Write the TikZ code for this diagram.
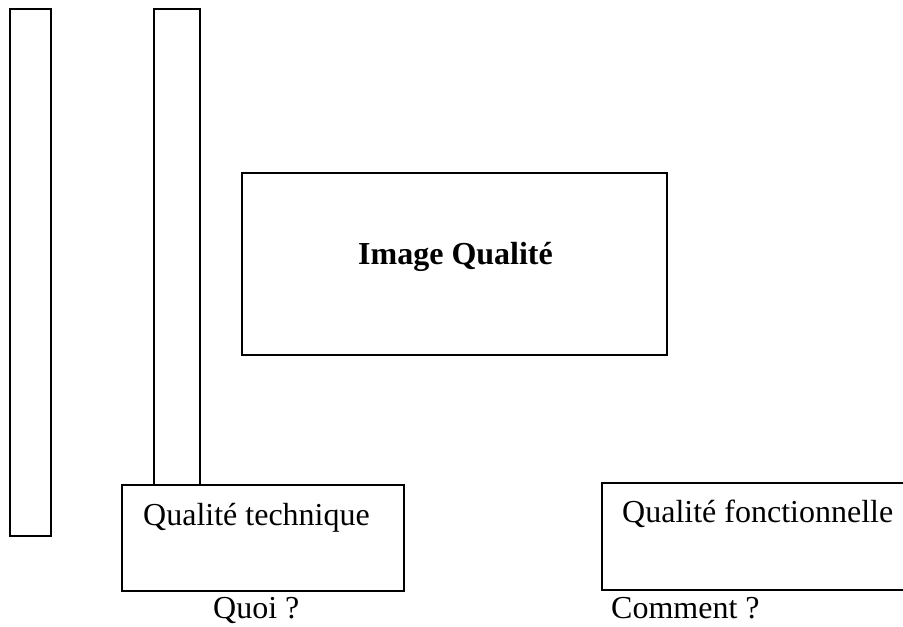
\documentclass[tikz,border=0pt]{standalone}
\usepackage{fontspec}
\setmainfont{Liberation Serif}
\begin{document}
\begin{tikzpicture}[x=1pt,y=-1pt,
  frame/.style={draw=black, line width=1.05pt, rectangle, inner sep=0pt, outer sep=0pt, anchor=north west},
  caption/.style={font=\fontsize{32}{38}\selectfont, inner sep=0pt, anchor=base west}]
\clip (0,0) rectangle (903,627);
% two tall vertical bars
\node[frame, minimum width=41pt, minimum height=527pt] (barA) at (10,9) {};
\node[frame, minimum width=46pt, minimum height=476pt] (barB) at (154,9) {};
% central box
\node[frame, minimum width=425pt, minimum height=182pt] (image) at (242,173) {};
\node[caption, font=\fontsize{32}{38}\selectfont\bfseries] (imageT) at (358,264) {Image Qualité};
% lower boxes
\node[frame, minimum width=282pt, minimum height=106pt] (tech) at (122,485) {};
\node[caption] (techT) at (143,525) {Qualité technique};
\node[caption] (quoi) at (213,618) {Quoi ?};
\node[frame, minimum width=330pt, minimum height=107pt] (fonc) at (602,483) {};
\node[caption] (foncT) at (622,522) {Qualité fonctionnelle};
\node[caption] (comment) at (611,618) {Comment ?};
\end{tikzpicture}
\end{document}
